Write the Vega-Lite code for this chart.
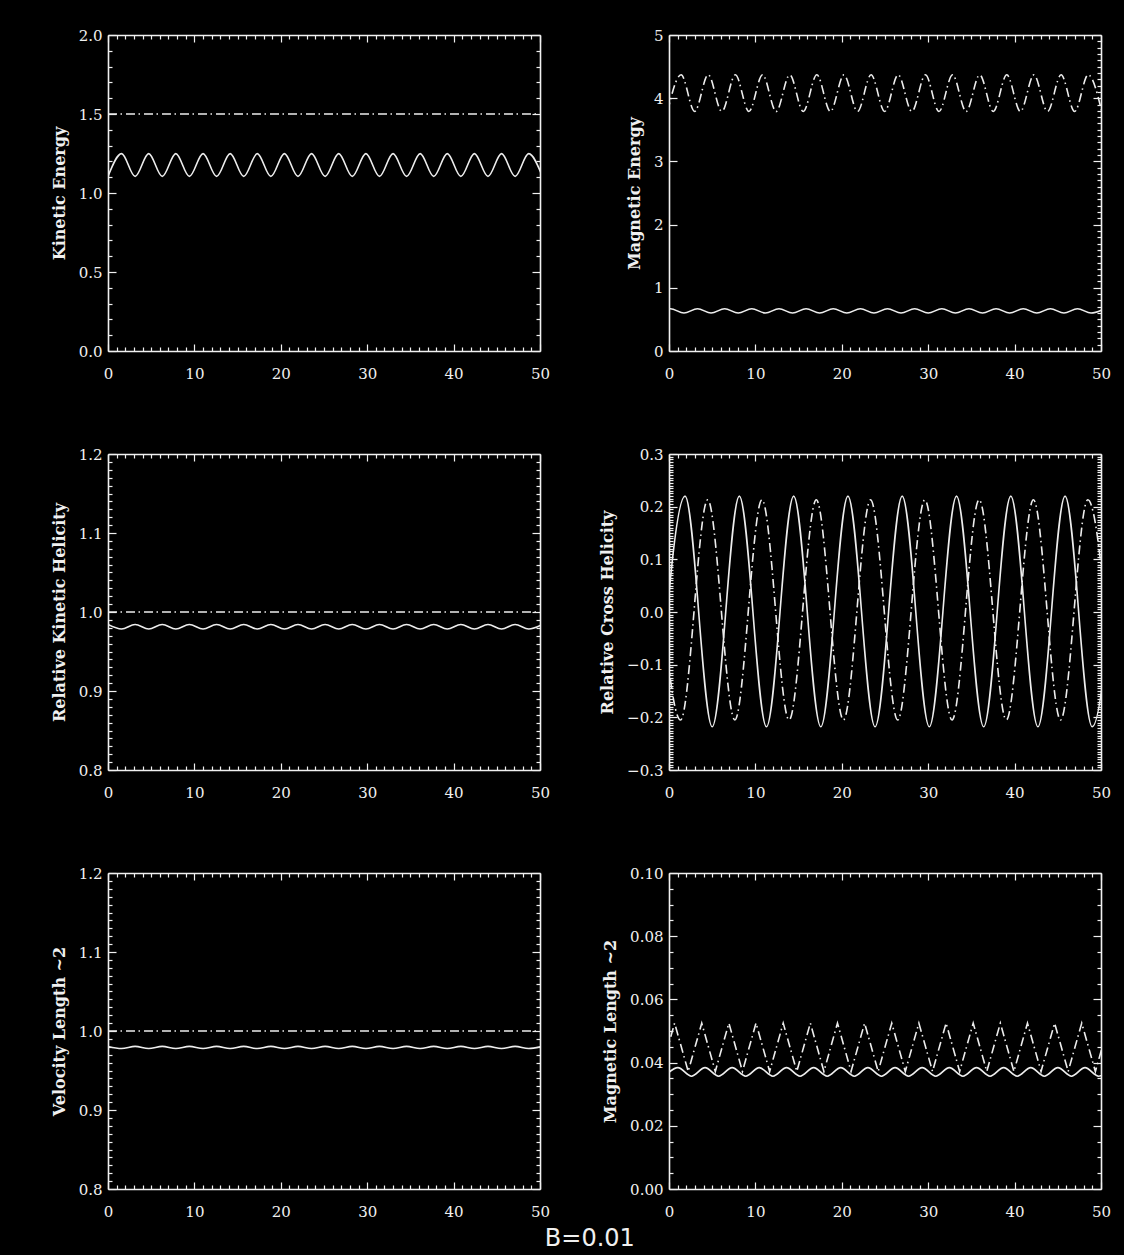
{
  "$schema": "https://vega.github.io/schema/vega-lite/v6.json",
  "background": "black",
  "autosize": {"type": "pad"},
  "padding": {"left": 51, "top": 28, "right": 13, "bottom": 8},
  "title": {"text": "B=0.01", "orient": "bottom", "anchor": "middle", "font": "DejaVu Sans", "fontSize": 24, "fontWeight": "normal", "color": "#F0F0F0", "offset": 5, "dx": 9},
  "columns": 2,
  "bounds": "flush",
  "spacing": {"row": 103, "column": 129},
  "config": {
    "view": {"stroke": null},
    "axis": {"domainColor": "#F0F0F0", "domainWidth": 1.6, "tickColor": "#F0F0F0", "tickWidth": 1.2, "labelColor": "#F0F0F0", "labelFont": "DejaVu Serif", "labelFontSize": 15, "titleColor": "#F0F0F0", "titleFont": "DejaVu Serif", "titleFontSize": 16, "titleFontWeight": "bold", "grid": false, "labelOverlap": false, "labelFlush": false, "labelBound": false, "titlePadding": 11}
  },
  "datasets": {
    "ke": [{"x":0,"y":1.105},{"x":1.57,"y":1.249},{"x":3.14,"y":1.105},{"x":4.71,"y":1.249},{"x":6.28,"y":1.105},{"x":7.85,"y":1.249},{"x":9.42,"y":1.105},{"x":11.0,"y":1.249},{"x":12.57,"y":1.105},{"x":14.14,"y":1.249},{"x":15.71,"y":1.105},{"x":17.28,"y":1.249},{"x":18.85,"y":1.105},{"x":20.42,"y":1.249},{"x":21.99,"y":1.105},{"x":23.56,"y":1.249},{"x":25.13,"y":1.105},{"x":26.7,"y":1.249},{"x":28.27,"y":1.105},{"x":29.85,"y":1.249},{"x":31.42,"y":1.105},{"x":32.99,"y":1.249},{"x":34.56,"y":1.105},{"x":36.13,"y":1.249},{"x":37.7,"y":1.105},{"x":39.27,"y":1.249},{"x":40.84,"y":1.105},{"x":42.41,"y":1.249},{"x":43.98,"y":1.105},{"x":45.55,"y":1.249},{"x":47.12,"y":1.105},{"x":48.69,"y":1.249},{"x":50.27,"y":1.105}],
    "ke_c": [{"x":0,"y":1.5},{"x":50,"y":1.5}],
    "me_a": [{"x":-0.17,"y":3.79},{"x":1.4,"y":4.37},{"x":2.97,"y":3.79},{"x":4.54,"y":4.37},{"x":6.11,"y":3.79},{"x":7.68,"y":4.37},{"x":9.25,"y":3.79},{"x":10.83,"y":4.37},{"x":12.4,"y":3.79},{"x":13.97,"y":4.37},{"x":15.54,"y":3.79},{"x":17.11,"y":4.37},{"x":18.68,"y":3.79},{"x":20.25,"y":4.37},{"x":21.82,"y":3.79},{"x":23.39,"y":4.37},{"x":24.96,"y":3.79},{"x":26.53,"y":4.37},{"x":28.1,"y":3.79},{"x":29.68,"y":4.37},{"x":31.25,"y":3.79},{"x":32.82,"y":4.37},{"x":34.39,"y":3.79},{"x":35.96,"y":4.37},{"x":37.53,"y":3.79},{"x":39.1,"y":4.37},{"x":40.67,"y":3.79},{"x":42.24,"y":4.37},{"x":43.81,"y":3.79},{"x":45.38,"y":4.37},{"x":46.95,"y":3.79},{"x":48.52,"y":4.37},{"x":50.09,"y":3.79}],
    "me_b": [{"x":-1.41,"y":0.601},{"x":0.16,"y":0.669},{"x":1.73,"y":0.601},{"x":3.3,"y":0.669},{"x":4.87,"y":0.601},{"x":6.44,"y":0.669},{"x":8.01,"y":0.601},{"x":9.58,"y":0.669},{"x":11.16,"y":0.601},{"x":12.73,"y":0.669},{"x":14.3,"y":0.601},{"x":15.87,"y":0.669},{"x":17.44,"y":0.601},{"x":19.01,"y":0.669},{"x":20.58,"y":0.601},{"x":22.15,"y":0.669},{"x":23.72,"y":0.601},{"x":25.29,"y":0.669},{"x":26.86,"y":0.601},{"x":28.43,"y":0.669},{"x":30.0,"y":0.601},{"x":31.58,"y":0.669},{"x":33.15,"y":0.601},{"x":34.72,"y":0.669},{"x":36.29,"y":0.601},{"x":37.86,"y":0.669},{"x":39.43,"y":0.601},{"x":41.0,"y":0.669},{"x":42.57,"y":0.601},{"x":44.14,"y":0.669},{"x":45.71,"y":0.601},{"x":47.28,"y":0.669},{"x":48.85,"y":0.601},{"x":50.42,"y":0.669}],
    "rkh": [{"x":0,"y":0.9842},{"x":1.57,"y":0.9785},{"x":3.14,"y":0.9842},{"x":4.71,"y":0.9785},{"x":6.28,"y":0.9842},{"x":7.85,"y":0.9785},{"x":9.42,"y":0.9842},{"x":11.0,"y":0.9785},{"x":12.57,"y":0.9842},{"x":14.14,"y":0.9785},{"x":15.71,"y":0.9842},{"x":17.28,"y":0.9785},{"x":18.85,"y":0.9842},{"x":20.42,"y":0.9785},{"x":21.99,"y":0.9842},{"x":23.56,"y":0.9785},{"x":25.13,"y":0.9842},{"x":26.7,"y":0.9785},{"x":28.27,"y":0.9842},{"x":29.85,"y":0.9785},{"x":31.42,"y":0.9842},{"x":32.99,"y":0.9785},{"x":34.56,"y":0.9842},{"x":36.13,"y":0.9785},{"x":37.7,"y":0.9842},{"x":39.27,"y":0.9785},{"x":40.84,"y":0.9842},{"x":42.41,"y":0.9785},{"x":43.98,"y":0.9842},{"x":45.55,"y":0.9785},{"x":47.12,"y":0.9842},{"x":48.69,"y":0.9785},{"x":50.27,"y":0.9842}],
    "rkh_c": [{"x":0,"y":1.0},{"x":50,"y":1.0}],
    "rch_a": [{"x":-1.28,"y":-0.218},{"x":1.86,"y":0.22},{"x":5.0,"y":-0.218},{"x":8.14,"y":0.22},{"x":11.28,"y":-0.218},{"x":14.43,"y":0.22},{"x":17.57,"y":-0.218},{"x":20.71,"y":0.22},{"x":23.85,"y":-0.218},{"x":26.99,"y":0.22},{"x":30.13,"y":-0.218},{"x":33.28,"y":0.22},{"x":36.42,"y":-0.218},{"x":39.56,"y":0.22},{"x":42.7,"y":-0.218},{"x":45.84,"y":0.22},{"x":48.98,"y":-0.218},{"x":52.13,"y":0.22}],
    "rch_b": [{"x":-1.8,"y":0.213},{"x":1.34,"y":-0.205},{"x":4.48,"y":0.213},{"x":7.62,"y":-0.205},{"x":10.76,"y":0.213},{"x":13.9,"y":-0.205},{"x":17.05,"y":0.213},{"x":20.19,"y":-0.205},{"x":23.33,"y":0.213},{"x":26.47,"y":-0.205},{"x":29.61,"y":0.213},{"x":32.76,"y":-0.205},{"x":35.9,"y":0.213},{"x":39.04,"y":-0.205},{"x":42.18,"y":0.213},{"x":45.32,"y":-0.205},{"x":48.47,"y":0.213},{"x":51.61,"y":-0.205}],
    "vl": [{"x":0,"y":0.9805},{"x":1.57,"y":0.9778},{"x":3.14,"y":0.9805},{"x":4.71,"y":0.9778},{"x":6.28,"y":0.9805},{"x":7.85,"y":0.9778},{"x":9.42,"y":0.9805},{"x":11.0,"y":0.9778},{"x":12.57,"y":0.9805},{"x":14.14,"y":0.9778},{"x":15.71,"y":0.9805},{"x":17.28,"y":0.9778},{"x":18.85,"y":0.9805},{"x":20.42,"y":0.9778},{"x":21.99,"y":0.9805},{"x":23.56,"y":0.9778},{"x":25.13,"y":0.9805},{"x":26.7,"y":0.9778},{"x":28.27,"y":0.9805},{"x":29.85,"y":0.9778},{"x":31.42,"y":0.9805},{"x":32.99,"y":0.9778},{"x":34.56,"y":0.9805},{"x":36.13,"y":0.9778},{"x":37.7,"y":0.9805},{"x":39.27,"y":0.9778},{"x":40.84,"y":0.9805},{"x":42.41,"y":0.9778},{"x":43.98,"y":0.9805},{"x":45.55,"y":0.9778},{"x":47.12,"y":0.9805},{"x":48.69,"y":0.9778},{"x":50.27,"y":0.9805}],
    "vl_c": [{"x":0,"y":1.0},{"x":50,"y":1.0}],
    "ml_a": [{"x":-0.92,"y":0.0372},{"x":0.65,"y":0.0525},{"x":2.22,"y":0.0372},{"x":3.79,"y":0.0525},{"x":5.36,"y":0.0372},{"x":6.93,"y":0.0525},{"x":8.5,"y":0.0372},{"x":10.07,"y":0.0525},{"x":11.65,"y":0.0372},{"x":13.22,"y":0.0525},{"x":14.79,"y":0.0372},{"x":16.36,"y":0.0525},{"x":17.93,"y":0.0372},{"x":19.5,"y":0.0525},{"x":21.07,"y":0.0372},{"x":22.64,"y":0.0525},{"x":24.21,"y":0.0372},{"x":25.78,"y":0.0525},{"x":27.35,"y":0.0372},{"x":28.92,"y":0.0525},{"x":30.5,"y":0.0372},{"x":32.07,"y":0.0525},{"x":33.64,"y":0.0372},{"x":35.21,"y":0.0525},{"x":36.78,"y":0.0372},{"x":38.35,"y":0.0525},{"x":39.92,"y":0.0372},{"x":41.49,"y":0.0525},{"x":43.06,"y":0.0372},{"x":44.63,"y":0.0525},{"x":46.2,"y":0.0372},{"x":47.77,"y":0.0525},{"x":49.35,"y":0.0372},{"x":50.92,"y":0.0525}],
    "ml_b": [{"x":-0.54,"y":0.0357},{"x":1.03,"y":0.0384},{"x":2.6,"y":0.0357},{"x":4.17,"y":0.0384},{"x":5.74,"y":0.0357},{"x":7.31,"y":0.0384},{"x":8.88,"y":0.0357},{"x":10.45,"y":0.0384},{"x":12.03,"y":0.0357},{"x":13.6,"y":0.0384},{"x":15.17,"y":0.0357},{"x":16.74,"y":0.0384},{"x":18.31,"y":0.0357},{"x":19.88,"y":0.0384},{"x":21.45,"y":0.0357},{"x":23.02,"y":0.0384},{"x":24.59,"y":0.0357},{"x":26.16,"y":0.0384},{"x":27.73,"y":0.0357},{"x":29.3,"y":0.0384},{"x":30.87,"y":0.0357},{"x":32.45,"y":0.0384},{"x":34.02,"y":0.0357},{"x":35.59,"y":0.0384},{"x":37.16,"y":0.0357},{"x":38.73,"y":0.0384},{"x":40.3,"y":0.0357},{"x":41.87,"y":0.0384},{"x":43.44,"y":0.0357},{"x":45.01,"y":0.0384},{"x":46.58,"y":0.0357},{"x":48.15,"y":0.0384},{"x":49.72,"y":0.0357},{"x":51.3,"y":0.0384}]
  },
  "concat": [
    {
      "width": 432, "height": 316,
      "layer": [
        {"data": {"name": "ke"},
         "mark": {"type": "line", "interpolate": "monotone", "clip": true, "color": "#EDEDED", "strokeWidth": 1.6},
         "encoding": {
           "x": {"field": "x", "type": "quantitative", "scale": {"domain": [0, 50], "nice": false, "zero": false},
                 "axis": {"orient": "bottom", "title": null, "tickCount": 50, "format": "d", "labelExpr": "datum.value % 10 === 0 ? datum.label : ''", "tickSize": {"condition": {"test": "datum.value % 10 === 0", "value": -7}, "value": -4}, "labelPadding": 22}},
           "y": {"field": "y", "type": "quantitative", "scale": {"domain": [0, 2], "nice": false, "zero": false},
                 "axis": {"orient": "left", "title": "Kinetic Energy", "tickCount": 20, "format": ".1f", "labelExpr": "abs(datum.value*2-round(datum.value*2))<1e-6 ? datum.label : ''", "tickSize": {"condition": {"test": "abs(datum.value*2-round(datum.value*2))<1e-6", "value": -8}, "value": -4}, "labelPadding": 14}}
         }},
        {"data": {"name": "ke_c"},
         "mark": {"type": "line", "clip": true, "color": "#EDEDED", "strokeWidth": 1.6, "strokeDash": [9, 3.5, 1.5, 4]},
         "encoding": {
           "x": {"field": "x", "type": "quantitative", "scale": {"domain": [0, 50], "nice": false, "zero": false},
                 "axis": {"orient": "top", "title": null, "tickCount": 50, "labels": false, "tickSize": {"condition": {"test": "datum.value % 10 === 0", "value": -7}, "value": -4}}},
           "y": {"field": "y", "type": "quantitative", "scale": {"domain": [0, 2], "nice": false, "zero": false},
                 "axis": {"orient": "right", "title": null, "tickCount": 20, "labels": false, "tickSize": {"condition": {"test": "abs(datum.value*2-round(datum.value*2))<1e-6", "value": -8}, "value": -4}}}
         }}
      ],
      "resolve": {"scale": {"x": "independent", "y": "independent"}}
    },
    {
      "width": 432, "height": 316,
      "layer": [
        {"data": {"name": "me_b"},
         "mark": {"type": "line", "interpolate": "monotone", "clip": true, "color": "#EDEDED", "strokeWidth": 1.6},
         "encoding": {
           "x": {"field": "x", "type": "quantitative", "scale": {"domain": [0, 50], "nice": false, "zero": false},
                 "axis": {"orient": "bottom", "title": null, "tickCount": 50, "format": "d", "labelExpr": "datum.value % 10 === 0 ? datum.label : ''", "tickSize": {"condition": {"test": "datum.value % 10 === 0", "value": -7}, "value": -4}, "labelPadding": 22}},
           "y": {"field": "y", "type": "quantitative", "scale": {"domain": [0, 5], "nice": false, "zero": false},
                 "axis": {"orient": "left", "title": "Magnetic Energy", "tickCount": 50, "format": "d", "labelExpr": "abs(datum.value-round(datum.value))<1e-6 ? datum.label : ''", "tickSize": {"condition": {"test": "abs(datum.value-round(datum.value))<1e-6", "value": -8}, "value": -4}, "labelPadding": 14}}
         }},
        {"data": {"name": "me_a"},
         "mark": {"type": "line", "interpolate": "monotone", "clip": true, "color": "#EDEDED", "strokeWidth": 1.6, "strokeDash": [9, 3.5, 1.5, 4]},
         "encoding": {
           "x": {"field": "x", "type": "quantitative", "scale": {"domain": [0, 50], "nice": false, "zero": false},
                 "axis": {"orient": "top", "title": null, "tickCount": 50, "labels": false, "tickSize": {"condition": {"test": "datum.value % 10 === 0", "value": -7}, "value": -4}}},
           "y": {"field": "y", "type": "quantitative", "scale": {"domain": [0, 5], "nice": false, "zero": false},
                 "axis": {"orient": "right", "title": null, "tickCount": 50, "labels": false, "tickSize": {"condition": {"test": "abs(datum.value-round(datum.value))<1e-6", "value": -8}, "value": -4}}}
         }}
      ],
      "resolve": {"scale": {"x": "independent", "y": "independent"}}
    },
    {
      "width": 432, "height": 316,
      "layer": [
        {"data": {"name": "rkh"},
         "mark": {"type": "line", "interpolate": "monotone", "clip": true, "color": "#EDEDED", "strokeWidth": 1.6},
         "encoding": {
           "x": {"field": "x", "type": "quantitative", "scale": {"domain": [0, 50], "nice": false, "zero": false},
                 "axis": {"orient": "bottom", "title": null, "tickCount": 50, "format": "d", "labelExpr": "datum.value % 10 === 0 ? datum.label : ''", "tickSize": {"condition": {"test": "datum.value % 10 === 0", "value": -7}, "value": -4}, "labelPadding": 22}},
           "y": {"field": "y", "type": "quantitative", "scale": {"domain": [0.8, 1.2], "nice": false, "zero": false},
                 "axis": {"orient": "left", "title": "Relative Kinetic Helicity", "tickCount": 40, "format": ".1f", "labelExpr": "abs(datum.value*10-round(datum.value*10))<1e-6 ? datum.label : ''", "tickSize": {"condition": {"test": "abs(datum.value*10-round(datum.value*10))<1e-6", "value": -8}, "value": -4}, "labelPadding": 14}}
         }},
        {"data": {"name": "rkh_c"},
         "mark": {"type": "line", "clip": true, "color": "#EDEDED", "strokeWidth": 1.6, "strokeDash": [9, 3.5, 1.5, 4]},
         "encoding": {
           "x": {"field": "x", "type": "quantitative", "scale": {"domain": [0, 50], "nice": false, "zero": false},
                 "axis": {"orient": "top", "title": null, "tickCount": 50, "labels": false, "tickSize": {"condition": {"test": "datum.value % 10 === 0", "value": -7}, "value": -4}}},
           "y": {"field": "y", "type": "quantitative", "scale": {"domain": [0.8, 1.2], "nice": false, "zero": false},
                 "axis": {"orient": "right", "title": null, "tickCount": 40, "labels": false, "tickSize": {"condition": {"test": "abs(datum.value*10-round(datum.value*10))<1e-6", "value": -8}, "value": -4}}}
         }}
      ],
      "resolve": {"scale": {"x": "independent", "y": "independent"}}
    },
    {
      "width": 432, "height": 316,
      "layer": [
        {"data": {"name": "rch_a"},
         "mark": {"type": "line", "interpolate": "monotone", "clip": true, "color": "#EDEDED", "strokeWidth": 1.6},
         "encoding": {
           "x": {"field": "x", "type": "quantitative", "scale": {"domain": [0, 50], "nice": false, "zero": false},
                 "axis": {"orient": "bottom", "title": null, "tickCount": 50, "format": "d", "labelExpr": "datum.value % 10 === 0 ? datum.label : ''", "tickSize": {"condition": {"test": "datum.value % 10 === 0", "value": -7}, "value": -4}, "labelPadding": 22}},
           "y": {"field": "y", "type": "quantitative", "scale": {"domain": [-0.3, 0.3], "nice": false, "zero": false},
                 "axis": {"orient": "left", "title": "Relative Cross Helicity", "tickCount": 120, "format": ".1f", "labelExpr": "abs(datum.value*10-round(datum.value*10))<1e-6 ? datum.label : ''", "tickSize": {"condition": {"test": "abs(datum.value*10-round(datum.value*10))<1e-6", "value": -8}, "value": -4}, "labelPadding": 14}}
         }},
        {"data": {"name": "rch_b"},
         "mark": {"type": "line", "interpolate": "monotone", "clip": true, "color": "#EDEDED", "strokeWidth": 1.6, "strokeDash": [9, 3.5, 1.5, 4]},
         "encoding": {
           "x": {"field": "x", "type": "quantitative", "scale": {"domain": [0, 50], "nice": false, "zero": false},
                 "axis": {"orient": "top", "title": null, "tickCount": 50, "labels": false, "tickSize": {"condition": {"test": "datum.value % 10 === 0", "value": -7}, "value": -4}}},
           "y": {"field": "y", "type": "quantitative", "scale": {"domain": [-0.3, 0.3], "nice": false, "zero": false},
                 "axis": {"orient": "right", "title": null, "tickCount": 120, "labels": false, "tickSize": {"condition": {"test": "abs(datum.value*10-round(datum.value*10))<1e-6", "value": -8}, "value": -4}}}
         }}
      ],
      "resolve": {"scale": {"x": "independent", "y": "independent"}}
    },
    {
      "width": 432, "height": 316,
      "layer": [
        {"data": {"name": "vl"},
         "mark": {"type": "line", "interpolate": "monotone", "clip": true, "color": "#EDEDED", "strokeWidth": 1.6},
         "encoding": {
           "x": {"field": "x", "type": "quantitative", "scale": {"domain": [0, 50], "nice": false, "zero": false},
                 "axis": {"orient": "bottom", "title": null, "tickCount": 50, "format": "d", "labelExpr": "datum.value % 10 === 0 ? datum.label : ''", "tickSize": {"condition": {"test": "datum.value % 10 === 0", "value": -7}, "value": -4}, "labelPadding": 22}},
           "y": {"field": "y", "type": "quantitative", "scale": {"domain": [0.8, 1.2], "nice": false, "zero": false},
                 "axis": {"orient": "left", "title": "Velocity Length ~2", "tickCount": 40, "format": ".1f", "labelExpr": "abs(datum.value*10-round(datum.value*10))<1e-6 ? datum.label : ''", "tickSize": {"condition": {"test": "abs(datum.value*10-round(datum.value*10))<1e-6", "value": -8}, "value": -4}, "labelPadding": 14}}
         }},
        {"data": {"name": "vl_c"},
         "mark": {"type": "line", "clip": true, "color": "#EDEDED", "strokeWidth": 1.6, "strokeDash": [9, 3.5, 1.5, 4]},
         "encoding": {
           "x": {"field": "x", "type": "quantitative", "scale": {"domain": [0, 50], "nice": false, "zero": false},
                 "axis": {"orient": "top", "title": null, "tickCount": 50, "labels": false, "tickSize": {"condition": {"test": "datum.value % 10 === 0", "value": -7}, "value": -4}}},
           "y": {"field": "y", "type": "quantitative", "scale": {"domain": [0.8, 1.2], "nice": false, "zero": false},
                 "axis": {"orient": "right", "title": null, "tickCount": 40, "labels": false, "tickSize": {"condition": {"test": "abs(datum.value*10-round(datum.value*10))<1e-6", "value": -8}, "value": -4}}}
         }}
      ],
      "resolve": {"scale": {"x": "independent", "y": "independent"}}
    },
    {
      "width": 432, "height": 316,
      "layer": [
        {"data": {"name": "ml_b"},
         "mark": {"type": "line", "interpolate": "monotone", "clip": true, "color": "#EDEDED", "strokeWidth": 1.6},
         "encoding": {
           "x": {"field": "x", "type": "quantitative", "scale": {"domain": [0, 50], "nice": false, "zero": false},
                 "axis": {"orient": "bottom", "title": null, "tickCount": 50, "format": "d", "labelExpr": "datum.value % 10 === 0 ? datum.label : ''", "tickSize": {"condition": {"test": "datum.value % 10 === 0", "value": -7}, "value": -4}, "labelPadding": 22}},
           "y": {"field": "y", "type": "quantitative", "scale": {"domain": [0, 0.1], "nice": false, "zero": false},
                 "axis": {"orient": "left", "title": "Magnetic Length ~2", "tickCount": 20, "format": ".2f", "labelExpr": "abs(datum.value*50-round(datum.value*50))<1e-6 ? datum.label : ''", "tickSize": {"condition": {"test": "abs(datum.value*50-round(datum.value*50))<1e-6", "value": -8}, "value": -4}, "labelPadding": 14}}
         }},
        {"data": {"name": "ml_a"},
         "mark": {"type": "line", "clip": true, "color": "#EDEDED", "strokeWidth": 1.6, "strokeDash": [9, 3.5, 1.5, 4]},
         "encoding": {
           "x": {"field": "x", "type": "quantitative", "scale": {"domain": [0, 50], "nice": false, "zero": false},
                 "axis": {"orient": "top", "title": null, "tickCount": 50, "labels": false, "tickSize": {"condition": {"test": "datum.value % 10 === 0", "value": -7}, "value": -4}}},
           "y": {"field": "y", "type": "quantitative", "scale": {"domain": [0, 0.1], "nice": false, "zero": false},
                 "axis": {"orient": "right", "title": null, "tickCount": 20, "labels": false, "tickSize": {"condition": {"test": "abs(datum.value*50-round(datum.value*50))<1e-6", "value": -8}, "value": -4}}}
         }}
      ],
      "resolve": {"scale": {"x": "independent", "y": "independent"}}
    }
  ]
}
